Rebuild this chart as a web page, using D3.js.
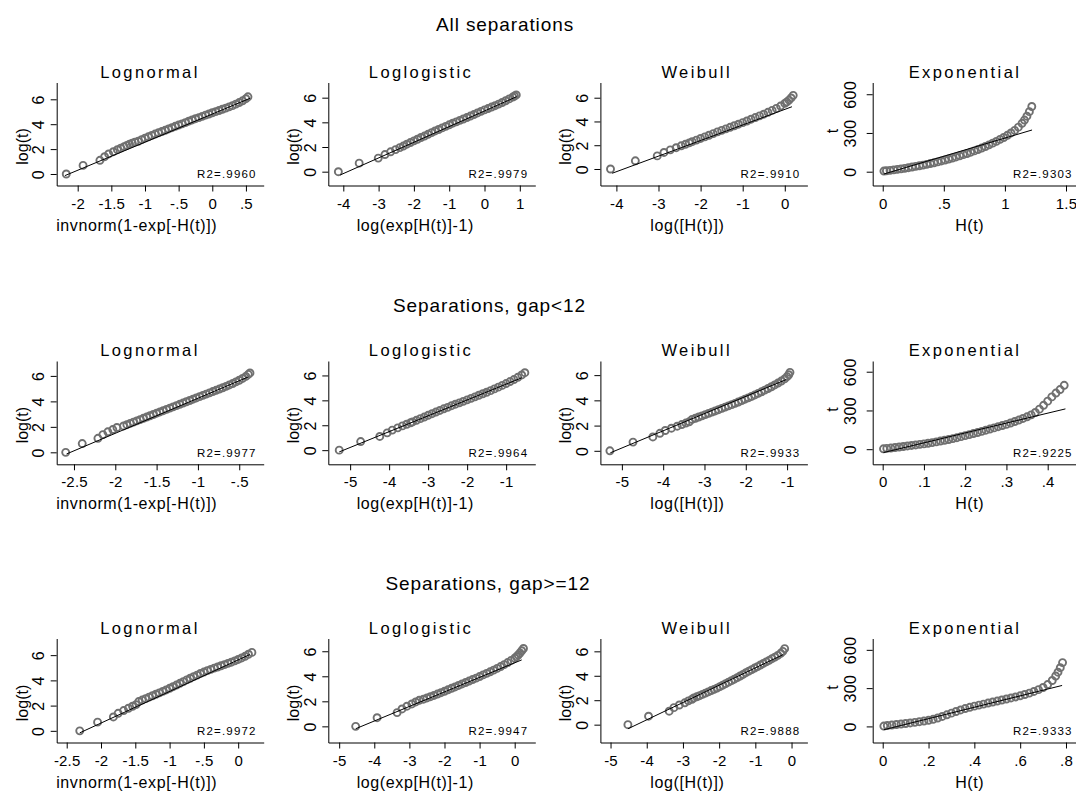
<!DOCTYPE html>
<html>
<head>
<meta charset="utf-8">
<script src="https://cdn.jsdelivr.net/npm/d3@7"></script>
<style>
body { margin: 0; background: #fff; }
text { font-family: "Liberation Sans", Arial, sans-serif; fill: #000; }
</style>
</head>
<body>
<svg id="chart" width="1076" height="794"></svg>
<script>
// ---- data ----
var rowTitles = ['All separations', 'Separations, gap<12', 'Separations, gap>=12'];
var panelNames = ['Lognormal', 'Loglogistic', 'Weibull', 'Exponential'];
var xTitles = ['invnorm(1-exp[-H(t)])', 'log(exp[H(t)]-1)', 'log([H(t)])', 'H(t)'];
var yTitles = ['log(t)', 'log(t)', 'log(t)', 't'];
var r2Values = [
  ['.9960', '.9979', '.9910', '.9303'],
  ['.9977', '.9964', '.9933', '.9225'],
  ['.9972', '.9947', '.9888', '.9333']
];
var xTicks = [
  [-2, -1.5, -1, -0.5, 0, 0.5], [-4, -3, -2, -1, 0, 1], [-4, -3, -2, -1, 0], [0, 0.5, 1, 1.5],
  [-2.5, -2, -1.5, -1, -0.5], [-5, -4, -3, -2, -1], [-5, -4, -3, -2, -1], [0, 0.1, 0.2, 0.3, 0.4],
  [-2.5, -2, -1.5, -1, -0.5, 0], [-5, -4, -3, -2, -1, 0], [-5, -4, -3, -2, -1, 0], [0, 0.2, 0.4, 0.6, 0.8]
];
var logTicks = [0, 2, 4, 6];
var tTicks = [0, 300, 600];

// all separations
var lnAll = [[-2.17,0],[-1.92,0.69],[-1.67,1.10],[-1.60,1.39],[-1.54,1.61],[-1.47,1.79],[-1.41,1.95],[-1.36,2.08],[-1.31,2.20],[-1.27,2.30],[-1.23,2.40],[-1.19,2.48],[-1.15,2.56],[-1.10,2.63],[-1.05,2.76],[-1.00,2.88],[-0.95,2.99],[-0.90,3.10],[-0.85,3.21],[-0.80,3.31],[-0.75,3.41],[-0.70,3.51],[-0.65,3.62],[-0.60,3.72],[-0.55,3.83],[-0.50,3.93],[-0.45,4.03],[-0.40,4.13],[-0.35,4.24],[-0.30,4.34],[-0.25,4.44],[-0.20,4.53],[-0.15,4.63],[-0.10,4.73],[-0.05,4.82],[0.00,4.92],[0.05,5.01],[0.10,5.10],[0.15,5.20],[0.20,5.29],[0.25,5.39],[0.30,5.49],[0.35,5.61],[0.40,5.74],[0.45,5.88],[0.50,6.05],[0.53,6.20]];
var llAll = [[-4.14,0],[-3.55,0.69],[-3.01,1.10],[-2.82,1.39],[-2.66,1.61],[-2.52,1.79],[-2.40,1.95],[-2.30,2.08],[-2.2,2.23],[-2.1,2.36],[-2.0,2.50],[-1.9,2.63],[-1.8,2.77],[-1.7,2.89],[-1.6,3.03],[-1.5,3.17],[-1.4,3.30],[-1.3,3.42],[-1.2,3.55],[-1.1,3.67],[-1.0,3.80],[-0.9,3.93],[-0.8,4.04],[-0.7,4.16],[-0.6,4.27],[-0.5,4.39],[-0.4,4.51],[-0.3,4.63],[-0.2,4.76],[-0.1,4.89],[0.0,5.01],[0.1,5.12],[0.2,5.24],[0.3,5.35],[0.4,5.48],[0.5,5.61],[0.6,5.75],[0.7,5.90],[0.8,6.05],[0.85,6.13],[0.9,6.22]];
var wbAll = [[-4.14,0],[-3.55,0.69],[-3.03,1.10],[-2.87,1.39],[-2.72,1.61],[-2.58,1.79],[-2.46,1.95],[-2.36,2.08],[-2.27,2.20],[-2.2,2.30],[-2.1,2.43],[-2.0,2.57],[-1.9,2.70],[-1.8,2.84],[-1.7,2.98],[-1.6,3.12],[-1.5,3.25],[-1.4,3.38],[-1.3,3.51],[-1.2,3.64],[-1.1,3.77],[-1.0,3.90],[-0.9,4.04],[-0.8,4.19],[-0.7,4.33],[-0.6,4.47],[-0.5,4.61],[-0.4,4.77],[-0.3,4.93],[-0.2,5.10],[-0.1,5.30],[0.0,5.52],[0.05,5.65],[0.1,5.80],[0.15,5.98],[0.2,6.20]];
var exAll = [[0.01,5],[0.03,7],[0.06,10],[0.09,14],[0.12,18],[0.15,22],[0.18,26],[0.21,31],[0.24,36],[0.27,41],[0.30,46],[0.33,51],[0.36,57],[0.39,63],[0.42,69],[0.45,76],[0.48,83],[0.51,90],[0.54,98],[0.57,106],[0.60,114],[0.63,123],[0.66,132],[0.69,141],[0.72,151],[0.75,161],[0.78,172],[0.81,183],[0.84,195],[0.87,208],[0.90,221],[0.93,235],[0.96,250],[0.99,265],[1.02,282],[1.05,300],[1.08,320],[1.11,345],[1.14,375],[1.16,400],[1.18,430],[1.20,465],[1.22,505]];

// gap < 12
var lnLt = [[-2.60,0],[-2.40,0.69],[-2.21,1.10],[-2.15,1.39],[-2.09,1.61],[-2.03,1.79],[-1.98,1.95],[-1.90,2.07],[-1.86,2.17],[-1.82,2.27],[-1.78,2.37],[-1.74,2.47],[-1.70,2.57],[-1.66,2.67],[-1.62,2.77],[-1.58,2.87],[-1.54,2.97],[-1.50,3.07],[-1.46,3.17],[-1.42,3.27],[-1.38,3.37],[-1.34,3.47],[-1.30,3.57],[-1.26,3.67],[-1.22,3.77],[-1.18,3.87],[-1.14,3.97],[-1.10,4.07],[-1.06,4.17],[-1.02,4.27],[-0.98,4.37],[-0.94,4.47],[-0.90,4.57],[-0.86,4.67],[-0.82,4.77],[-0.78,4.87],[-0.74,4.97],[-0.70,5.07],[-0.66,5.18],[-0.62,5.29],[-0.58,5.40],[-0.54,5.53],[-0.50,5.66],[-0.46,5.80],[-0.42,5.96],[-0.39,6.12],[-0.37,6.23]];
var llLt = [[-5.28,0],[-4.73,0.69],[-4.24,1.10],[-4.05,1.39],[-3.92,1.61],[-3.78,1.79],[-3.66,1.95],[-3.55,2.08],[-3.45,2.20],[-3.4,2.27],[-3.3,2.40],[-3.2,2.53],[-3.1,2.66],[-3.0,2.80],[-2.9,2.93],[-2.8,3.06],[-2.7,3.19],[-2.6,3.32],[-2.5,3.44],[-2.4,3.57],[-2.3,3.69],[-2.2,3.80],[-2.1,3.92],[-2.0,4.04],[-1.9,4.16],[-1.8,4.28],[-1.7,4.41],[-1.6,4.53],[-1.5,4.65],[-1.4,4.78],[-1.3,4.92],[-1.2,5.06],[-1.1,5.20],[-1.0,5.35],[-0.9,5.51],[-0.8,5.67],[-0.7,5.85],[-0.6,6.04],[-0.52,6.22]];
var wbLt = [[-5.29,0],[-4.73,0.69],[-4.25,1.10],[-4.08,1.39],[-3.95,1.61],[-3.80,1.79],[-3.66,1.95],[-3.55,2.08],[-3.45,2.20],[-3.37,2.30],[-3.30,2.49],[-3.22,2.58],[-3.14,2.68],[-3.06,2.77],[-2.98,2.87],[-2.90,2.97],[-2.82,3.07],[-2.74,3.16],[-2.66,3.26],[-2.58,3.36],[-2.50,3.46],[-2.42,3.56],[-2.34,3.66],[-2.26,3.76],[-2.18,3.87],[-2.10,3.98],[-2.02,4.09],[-1.94,4.20],[-1.86,4.31],[-1.78,4.43],[-1.70,4.55],[-1.62,4.68],[-1.54,4.81],[-1.46,4.94],[-1.38,5.08],[-1.30,5.22],[-1.22,5.37],[-1.14,5.53],[-1.06,5.70],[-1.00,5.88],[-0.96,6.03],[-0.93,6.22]];
var exLt = [[0.002,3],[0.01,6],[0.02,9],[0.03,13],[0.04,17],[0.05,21],[0.06,25],[0.07,29],[0.08,33],[0.09,37],[0.10,41],[0.11,46],[0.12,51],[0.13,57],[0.14,63],[0.15,69],[0.16,75],[0.17,82],[0.18,89],[0.19,97],[0.20,105],[0.21,113],[0.22,121],[0.23,129],[0.24,138],[0.25,147],[0.26,156],[0.27,165],[0.28,174],[0.29,183],[0.30,192],[0.31,203],[0.32,214],[0.33,226],[0.34,238],[0.35,251],[0.36,266],[0.37,284],[0.38,310],[0.39,340],[0.40,372],[0.41,405],[0.42,435],[0.43,462],[0.44,495]];

// gap >= 12
var lnGe = [[-2.31,0],[-2.05,0.69],[-1.82,1.10],[-1.75,1.39],[-1.67,1.61],[-1.60,1.79],[-1.54,1.95],[-1.49,2.08],[-1.45,2.32],[-1.40,2.44],[-1.35,2.55],[-1.30,2.67],[-1.25,2.78],[-1.20,2.90],[-1.15,3.01],[-1.10,3.13],[-1.05,3.24],[-1.00,3.37],[-0.95,3.50],[-0.90,3.63],[-0.85,3.77],[-0.80,3.90],[-0.75,4.04],[-0.70,4.17],[-0.65,4.30],[-0.60,4.42],[-0.55,4.55],[-0.50,4.66],[-0.45,4.77],[-0.40,4.87],[-0.35,4.97],[-0.30,5.06],[-0.25,5.16],[-0.20,5.25],[-0.15,5.35],[-0.10,5.44],[-0.05,5.55],[0.00,5.66],[0.05,5.78],[0.10,5.91],[0.15,6.07],[0.20,6.22]];
var llGe = [[-4.53,0],[-3.92,0.69],[-3.35,1.10],[-3.21,1.39],[-3.07,1.61],[-2.93,1.79],[-2.82,1.95],[-2.72,2.08],[-2.6,2.17],[-2.5,2.27],[-2.4,2.37],[-2.3,2.47],[-2.2,2.58],[-2.1,2.69],[-2.0,2.80],[-1.9,2.92],[-1.8,3.04],[-1.7,3.15],[-1.6,3.27],[-1.5,3.39],[-1.4,3.50],[-1.3,3.62],[-1.2,3.74],[-1.1,3.85],[-1.0,3.98],[-0.9,4.11],[-0.8,4.23],[-0.7,4.36],[-0.6,4.49],[-0.5,4.63],[-0.4,4.78],[-0.3,4.93],[-0.2,5.10],[-0.1,5.27],[0.0,5.45],[0.05,5.57],[0.1,5.70],[0.15,5.86],[0.2,6.04],[0.25,6.22]];
var wbGe = [[-4.52,0],[-3.95,0.69],[-3.38,1.10],[-3.25,1.39],[-3.10,1.61],[-2.95,1.79],[-2.85,1.95],[-2.75,2.08],[-2.70,2.19],[-2.62,2.28],[-2.54,2.37],[-2.46,2.48],[-2.38,2.58],[-2.30,2.68],[-2.22,2.79],[-2.14,2.89],[-2.06,2.99],[-1.98,3.11],[-1.90,3.23],[-1.82,3.35],[-1.74,3.48],[-1.66,3.60],[-1.58,3.72],[-1.50,3.85],[-1.42,3.98],[-1.34,4.11],[-1.26,4.25],[-1.18,4.38],[-1.10,4.50],[-1.02,4.63],[-0.94,4.75],[-0.86,4.88],[-0.78,5.01],[-0.70,5.14],[-0.62,5.26],[-0.54,5.40],[-0.46,5.53],[-0.38,5.67],[-0.30,5.84],[-0.24,6.00],[-0.19,6.22]];
var exGe = [[0.005,3],[0.02,7],[0.04,11],[0.06,15],[0.08,19],[0.10,23],[0.12,27],[0.14,32],[0.16,37],[0.18,42],[0.20,48],[0.22,56],[0.24,66],[0.26,78],[0.28,91],[0.30,104],[0.32,117],[0.34,129],[0.36,140],[0.38,150],[0.40,159],[0.42,167],[0.44,175],[0.46,183],[0.48,191],[0.50,199],[0.52,207],[0.54,215],[0.56,223],[0.58,231],[0.60,240],[0.62,250],[0.64,261],[0.66,274],[0.68,288],[0.70,305],[0.72,328],[0.74,360],[0.755,395],[0.765,425],[0.775,460],[0.785,500]];

var points = [lnAll, llAll, wbAll, exAll, lnLt, llLt, wbLt, exLt, lnGe, llGe, wbGe, exGe];

// fitted lines (end points)
var fits = [
  [[-2.19,-0.13],[0.56,6.08]], [[-4.09,-0.27],[0.91,6.08]], [[-4.10,-0.36],[0.17,5.24]], [[0.01,-18],[1.222,323]],
  [[-2.59,-0.13],[-0.391,5.92]], [[-5.28,-0.14],[-0.60,5.81]], [[-5.28,-0.16],[-1.02,5.65]], [[0.002,-26],[0.443,312]],
  [[-2.31,-0.16],[0.17,6.05]], [[-4.53,-0.19],[0.20,5.31]], [[-4.52,-0.34],[-0.24,5.72]], [[0.005,-26],[0.783,321]]
];

// ---- layout ----
var colLeft = [56.7, 328.3, 600.4, 872.7];
var plotW = 207;
var rowTop = [82.5, 361, 638.5];
var rowBottom = [185.5, 464.3, 742.5];
var rowTitleX = [505, 489.5, 488];
var rowTitleY = [31, 312, 590];
var xDomains = [[-2.312,0.764],[-4.425,1.439],[-4.38,0.537],[-0.082,1.612],
  [-2.709,-0.204],[-5.56,-0.252],[-5.52,-0.508],[-0.0242,0.4776],
  [-2.646,0.372],[-5.31,0.587],[-5.28,0.438],[-0.0437,0.8598]];
var yDomains = [[-0.924,7.35],[-1.12,7.23],[-1.39,7.28],[-107,691],
  [-0.94,7.17],[-1.135,7.16],[-1.07,7.12],[-117,683],
  [-0.925,7.32],[-1.29,7.02],[-1.46,7.05],[-126,689]];
var nameDx = [93.3, 92.7, 96.3, 92.3];
var xTitleDx = [80, 87, 87, 97];

var svg = d3.select('#chart');

function fmt(d) {
  var s = String(+d.toFixed(2));
  return s.replace(/^0\./, '.').replace(/^-0\./, '-.');
}

svg.selectAll('text.rowtitle')
  .data(rowTitles)
  .enter()
  .append('text')
  .attr('class', 'rowtitle')
  .attr('x', function(d, i) { return rowTitleX[i]; })
  .attr('y', function(d, i) { return rowTitleY[i]; })
  .attr('text-anchor', 'middle')
  .style('font-size', '19px')
  .style('letter-spacing', '0.9px')
  .text(function(d) { return d; });

function drawPanel(r, c) {
  var i = r * 4 + c;
  var x0 = colLeft[c], y0 = rowTop[r], y1 = rowBottom[r];
  var x = d3.scaleLinear().domain(xDomains[i]).range([x0, x0 + plotW]);
  var y = d3.scaleLinear().domain(yDomains[i]).range([y1, y0]);
  var g = svg.append('g');

  // x axis
  var xa = g.append('g')
    .attr('transform', 'translate(0,' + y1 + ')')
    .call(d3.axisBottom(x).tickValues(xTicks[i]).tickSize(6).tickSizeOuter(0).tickFormat(fmt));
  xa.attr('font-family', null).attr('font-size', null);
  xa.select('.domain').attr('stroke', '#000');
  xa.selectAll('.tick line').attr('stroke', '#000');
  xa.selectAll('.tick text')
    .attr('y', 23).attr('dy', null)
    .style('font-size', '15px')
    .style('letter-spacing', '0.2px');

  // y axis
  var ticks = c === 3 ? tTicks : logTicks;
  var ya = g.append('g')
    .attr('transform', 'translate(' + x0 + ',0)')
    .call(d3.axisLeft(y).tickValues(ticks).tickSize(6).tickSizeOuter(0).tickFormat(fmt));
  ya.attr('font-family', null).attr('font-size', null);
  ya.select('.domain').attr('stroke', '#000');
  ya.selectAll('.tick line').attr('stroke', '#000');
  ya.selectAll('.tick text')
    .attr('x', null).attr('dy', null)
    .attr('text-anchor', 'middle')
    .attr('transform', 'translate(' + (c === 3 ? -17 : -12.5) + ',0) rotate(-90)')
    .style('font-size', '16px')
    .style('letter-spacing', '0.4px');

  // points
  g.append('g')
    .selectAll('circle')
    .data(points[i])
    .enter()
    .append('circle')
    .attr('cx', function(d) { return x(d[0]); })
    .attr('cy', function(d) { return y(d[1]); })
    .attr('r', 3.5)
    .attr('fill', 'none')
    .attr('stroke', '#707070')
    .attr('stroke-width', 1.9);

  // fitted line
  g.append('path')
    .datum(fits[i])
    .attr('d', d3.line().x(function(d) { return x(d[0]); }).y(function(d) { return y(d[1]); }))
    .attr('fill', 'none')
    .attr('stroke', '#000')
    .attr('stroke-width', 1);

  // texts
  g.append('text')
    .attr('x', x0 + nameDx[c])
    .attr('y', y0 - 5)
    .attr('text-anchor', 'middle')
    .style('font-size', '16.5px')
    .style('letter-spacing', '2.4px')
    .text(panelNames[c]);

  g.append('text')
    .attr('x', x0 + xTitleDx[c])
    .attr('y', y1 + 45)
    .attr('text-anchor', 'middle')
    .style('font-size', '16px')
    .style('letter-spacing', '0.6px')
    .text(xTitles[c]);

  var yMid = (y0 + y1) / 2 + (c === 3 ? -3 : 12.5);
  var yx = x0 - (c === 3 ? 35 : 29);
  g.append('text')
    .attr('transform', 'translate(' + yx + ',' + yMid + ') rotate(-90)')
    .attr('text-anchor', 'middle')
    .style('font-size', '16px')
    .text(yTitles[c]);

  g.append('text')
    .attr('x', x0 + 200)
    .attr('y', y1 - 7.5)
    .attr('text-anchor', 'end')
    .style('font-size', '11.5px')
    .style('letter-spacing', '1.2px')
    .text('R2=' + r2Values[r][c]);
}

for (var r = 0; r < 3; r++) {
  for (var c = 0; c < 4; c++) {
    drawPanel(r, c);
  }
}
</script>
</body>
</html>
